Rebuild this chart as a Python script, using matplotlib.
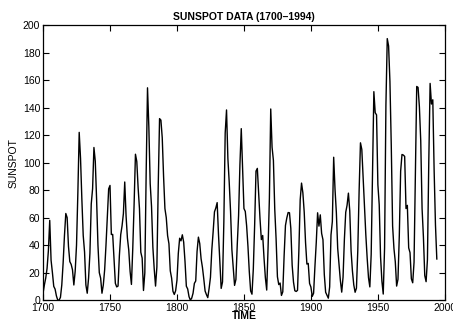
import numpy as np
import matplotlib
matplotlib.use("Agg")
import matplotlib.pyplot as plt

# nombre annuel de taches solaires, 1700-1994
annees = np.arange(1700, 1995)
taches = [
    5, 11, 16, 23, 36, 58, 29, 20, 10, 8,
    3, 0, 0, 2, 11, 27, 47, 63, 60, 39,
    28, 26, 22, 11, 21, 40, 78, 122, 103, 73,
    47, 35, 11, 5, 16, 34, 70, 81, 111, 101,
    73, 40, 20, 16, 5, 11, 22, 40, 60, 80.9,
    83.4, 47.7, 47.8, 30.7, 12.2, 9.6, 10.2, 32.4, 47.6, 54.0,
    62.9, 85.9, 61.2, 45.1, 36.4, 20.9, 11.4, 37.8, 69.8, 106.1,
    100.8, 81.6, 66.5, 34.8, 30.6, 7.0, 19.8, 92.5, 154.4, 125.9,
    84.8, 68.1, 38.5, 22.8, 10.2, 24.1, 82.9, 132.0, 130.9, 118.1,
    89.9, 66.6, 60.0, 46.9, 41.0, 21.3, 16.0, 6.4, 4.1, 6.8,
    14.5, 34.0, 45.0, 43.1, 47.5, 42.2, 28.1, 10.1, 8.1, 2.5,
    0.0, 1.4, 5.0, 12.2, 13.9, 35.4, 45.8, 41.1, 30.1, 23.9,
    15.6, 6.6, 4.0, 1.8, 8.5, 16.6, 36.3, 49.6, 64.2, 67.0,
    70.9, 47.8, 27.5, 8.5, 13.2, 56.9, 121.5, 138.3, 103.2, 85.7,
    64.6, 36.7, 24.2, 10.7, 15.0, 40.1, 61.5, 98.5, 124.7, 96.3,
    66.6, 64.5, 54.1, 39.0, 20.6, 6.7, 4.3, 22.7, 54.8, 93.8,
    95.8, 77.2, 59.1, 44.0, 47.0, 30.5, 16.3, 7.3, 37.6, 74.0,
    139.0, 111.2, 101.6, 66.2, 44.7, 17.0, 11.3, 12.4, 3.4, 6.0,
    32.3, 54.3, 59.7, 63.7, 63.5, 52.2, 25.4, 13.1, 6.8, 6.3,
    7.1, 35.6, 73.0, 85.1, 78.0, 64.0, 41.8, 26.2, 26.7, 12.1,
    9.5, 2.7, 5.0, 24.4, 42.0, 63.5, 53.8, 62.0, 48.5, 43.9,
    18.6, 5.7, 3.6, 1.4, 9.6, 47.4, 57.1, 103.9, 80.6, 63.6,
    37.6, 26.1, 14.2, 5.8, 16.7, 44.3, 63.9, 69.0, 77.8, 64.9,
    35.7, 21.2, 11.1, 5.7, 8.7, 36.1, 79.7, 114.4, 109.6, 88.8,
    67.8, 47.5, 30.6, 16.3, 9.6, 33.2, 92.6, 151.6, 136.3, 134.7,
    83.9, 69.4, 31.5, 13.9, 4.4, 38.0, 141.7, 190.2, 184.8, 159.0,
    112.3, 53.9, 37.5, 27.9, 10.2, 15.1, 47.0, 93.8, 105.9, 105.5,
    104.5, 66.6, 68.9, 38.0, 34.5, 15.5, 12.6, 27.5, 92.5, 155.4,
    154.7, 140.5, 115.9, 66.6, 45.9, 17.9, 13.4, 29.4, 100.2, 157.6,
    142.6, 145.7, 94.3, 54.6, 29.9,
]
xticks = [1700, 1750, 1800, 1850, 1900, 1950, 2000]
yticks = [0, 20, 40, 60, 80, 100, 120, 140, 160, 180, 200]

plt.rcParams['font.family'] = ['Liberation Sans', 'DejaVu Sans']

fig = plt.figure(figsize=(4.53, 3.22), dpi=100)
ax = fig.add_axes([0.095, 0.068, 0.887, 0.854])
ax.plot(annees, taches, color='black', lw=1.0)

ax.set_xlim(1700, 2000)
ax.set_ylim(0, 200)
ax.set_xticks(xticks)
ax.set_yticks(yticks)
ax.tick_params(direction='in', length=4, width=0.8, labelsize=7.5, pad=2,
               top=True, right=True)
for s in ax.spines.values():
    s.set_linewidth(0.9)

ax.set_title("SUNSPOT DATA (1700\u20131994)", fontsize=7.5, fontweight='bold', pad=4)
ax.set_xlabel("TIME", fontsize=7.5, fontweight='bold', labelpad=-1)
ax.set_ylabel("SUNSPOT", fontsize=7.5, labelpad=3)

fig.savefig("out.png", dpi=100)
